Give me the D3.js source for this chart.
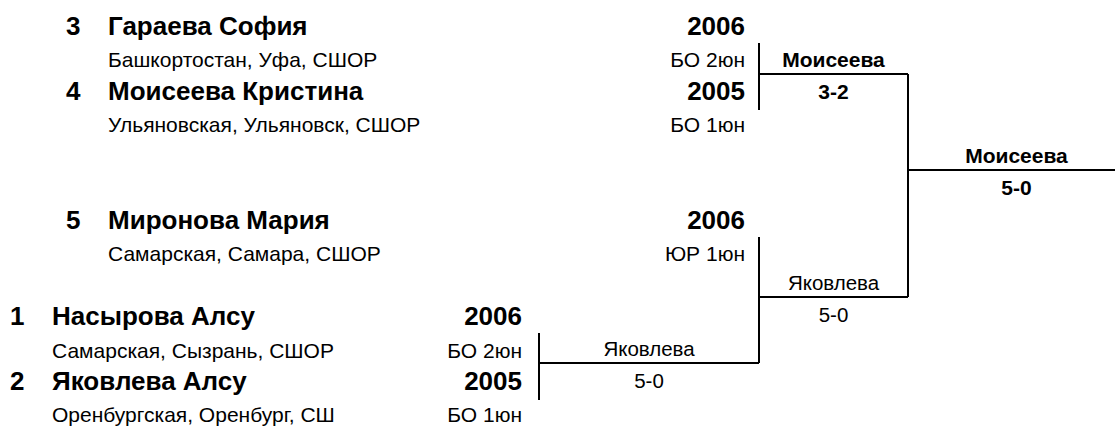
<!DOCTYPE html>
<html><head><meta charset="utf-8">
<script src="https://cdn.jsdelivr.net/npm/d3@7"></script>
<style>body{margin:0;background:#fff} svg{display:block}</style>
</head><body><svg id="c" width="1115" height="428"></svg>
<script>
// ---- data ----
const seeds = [3, 4, 5, 1, 2];
const names = ["Гараева София", "Моисеева Кристина", "Миронова Мария", "Насырова Алсу", "Яковлева Алсу"];
const infos = ["Башкортостан, Уфа, СШОР", "Ульяновская, Ульяновск, СШОР", "Самарская, Самара, СШОР", "Самарская, Сызрань, СШОР", "Оренбургская, Оренбург, СШ"];
const years = ["2006", "2005", "2006", "2006", "2005"];
const ranks = ["БО 2юн", "БО 1юн", "ЮР 1юн", "БО 2юн", "БО 1юн"];

const matchIds = ["m1", "m2", "m3", "final"];
const matchA = [3, 1, 5, "m1"];
const matchB = [4, 2, "m2", "m3"];
const matchWinners = ["Моисеева", "Яковлева", "Яковлева", "Моисеева"];
const matchScores = ["3-2", "5-0", "5-0", "5-0"];

// ---- layout (kept apart from data) ----
const playerLine = {3: 0, 4: 2, 5: 6, 1: 9, 2: 11};
const playerCol = {3: 1, 4: 1, 5: 1, 1: 0, 2: 0};
const matchLine = {m1: 1.21, m2: 10.17, m3: 8.12, final: 4.19};
const matchRound = {m1: 1, m2: 0, m3: 1, final: 2};
const boldMatch = new Set(["m1", "final"]);

const FONT = "'Liberation Sans', Arial, sans-serif";
const svg = d3.select("#c");

const y = d3.scaleLinear().domain([0, 12]).range([35, 35 + 12 * 32.25]);
const xRound = d3.scaleOrdinal().domain([0, 1, 2, 3]).range([539, 759, 908, 1125]);
const seedX = d3.scaleOrdinal().domain([0, 1]).range([10, 66]);
const yearX = d3.scaleOrdinal().domain([0, 1]).range([522, 745]);

const players = seeds.map((s, i) => ({seed: s, name: names[i], info: infos[i], year: years[i], rank: ranks[i]}));

const g = svg.append("g").attr("font-family", FONT).attr("fill", "#000");

const pg = g.selectAll("g.p").data(players).join("g").attr("class", "p");
pg.append("text").attr("x", d => seedX(playerCol[d.seed])).attr("y", d => y(playerLine[d.seed]))
  .attr("font-size", 26).attr("font-weight", "bold").text(d => d.seed);
pg.append("text").attr("x", d => seedX(playerCol[d.seed]) + 42).attr("y", d => y(playerLine[d.seed]))
  .attr("font-size", 26).attr("font-weight", "bold").text(d => d.name);
pg.append("text").attr("x", d => seedX(playerCol[d.seed]) + 42).attr("y", d => y(playerLine[d.seed] + 1))
  .attr("font-size", 21).text(d => d.info);
pg.append("text").attr("x", d => yearX(playerCol[d.seed])).attr("y", d => y(playerLine[d.seed]))
  .attr("text-anchor", "end").attr("font-size", 26).attr("font-weight", "bold").text(d => d.year);
pg.append("text").attr("x", d => yearX(playerCol[d.seed])).attr("y", d => y(playerLine[d.seed] + 1))
  .attr("text-anchor", "end").attr("font-size", 21).text(d => d.rank);

const matches = matchIds.map((id, i) => ({id, a: matchA[i], b: matchB[i], winner: matchWinners[i], score: matchScores[i]}));
const endY = (src, upper) => typeof src === "number"
  ? y(playerLine[src]) + (upper ? 8 : 10)
  : y(matchLine[src]);

const lines = g.append("g").attr("stroke", "#000").attr("shape-rendering", "crispEdges");
matches.forEach(m => {
  const r = matchRound[m.id];
  const x0 = xRound(r), x1 = xRound(r + 1);
  const hy = y(matchLine[m.id]);
  lines.append("line").attr("x1", x0).attr("x2", x0).attr("y1", endY(m.a, true)).attr("y2", endY(m.b, false)).attr("stroke-width", 2);
  lines.append("line").attr("x1", x0).attr("x2", x1).attr("y1", hy).attr("y2", hy).attr("stroke-width", 1.5);
  const cx = (x0 + x1) / 2;
  const bold = boldMatch.has(m.id);
  g.append("text").attr("x", cx).attr("y", hy - 7).attr("text-anchor", "middle")
    .attr("font-size", bold ? 21 : 20.5).attr("font-weight", bold ? "bold" : "normal").text(m.winner);
  g.append("text").attr("x", cx).attr("y", hy + 25).attr("text-anchor", "middle")
    .attr("font-size", bold ? 21 : 20.5).attr("font-weight", bold ? "bold" : "normal").text(m.score);
});
</script></body></html>
